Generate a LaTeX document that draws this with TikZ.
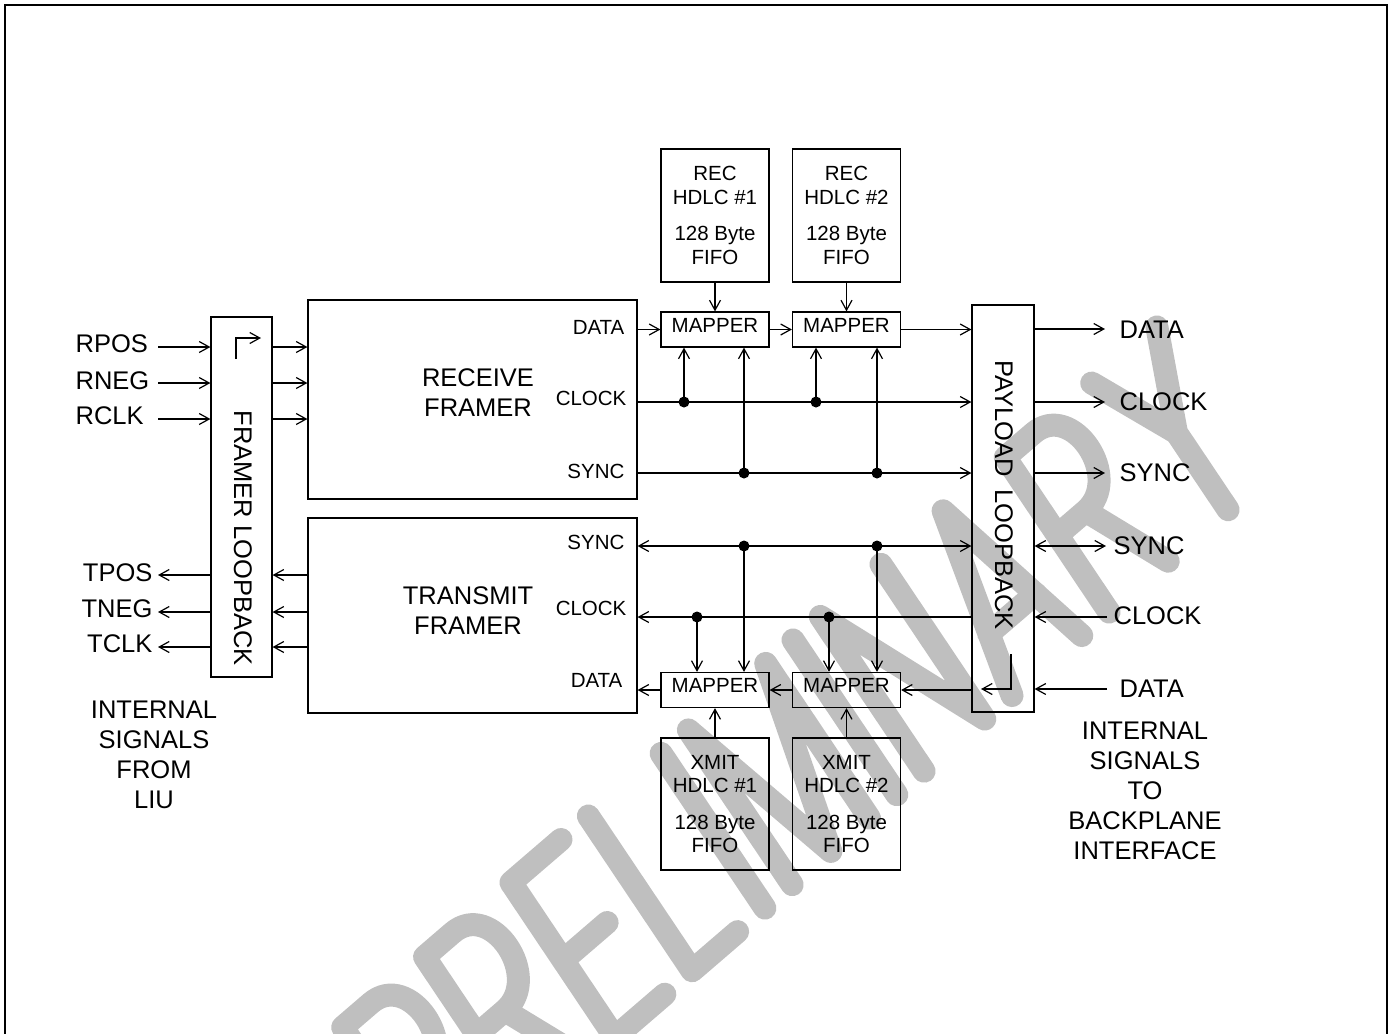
\documentclass[tikz,border=0pt]{standalone}
\usepackage{fontspec}
\setmainfont{Liberation Sans}
\usetikzlibrary{arrows.meta}
\begin{document}
\begin{tikzpicture}[x=1pt,y=-1pt,line width=1.2pt,
  >={Straight Barb[length=10pt,width=11pt]},
  blk/.style={draw,line width=1.2pt,inner sep=0pt},
  bigf/.style={font=\fontsize{25.5}{30}\selectfont},
  smallf/.style={font=\fontsize{20.5}{23.5}\selectfont},
  mapper/.style={blk,smallf,minimum width=108pt,minimum height=35pt,text height=15pt,text depth=10pt},
  hdlc/.style={blk,smallf,align=center,minimum width=108pt,minimum height=133pt},
  dot/.style={circle,fill,inner sep=0pt,minimum size=11pt},
  vtext/.style={bigf,rotate=-90,inner sep=0pt},
  lbl/.style={inner sep=0pt},
  wmark/.style={draw=black!25,line width=23pt,line cap=round,line join=round}]
\useasboundingbox (0,0) rectangle (1393,1034);

% watermark PRELIMINARY (stroke letters)
\begin{scope}[shift={(446.5,1182)},rotate=40.7,xslant=0.12,x=1pt,y=1pt,wmark]
  \draw (0,0) -- (0,185) -- (37,185) .. controls (88,185) and (88,92) .. (37,92) -- (0,92);
  \draw[xshift=108pt] (0,0) -- (0,185) -- (37,185) .. controls (88,185) and (88,92) .. (37,92) -- (0,92) (37,92) -- (78,0);
  \draw[xshift=222pt] (66,185) -- (0,185) -- (0,0) -- (66,0) (0,92) -- (58,92);
  \draw[xshift=324pt] (0,185) -- (0,0) -- (60,0);
  \draw[xshift=420pt] (0,0) -- (0,185);
  \draw[xshift=456pt] (0,0) -- (0,185) -- (51,0) -- (102,185) -- (102,0);
  \draw[xshift=594pt] (0,0) -- (0,185);
  \draw[xshift=630pt] (0,0) -- (0,185) -- (80,0) -- (80,185);
  \draw[xshift=746pt] (0,0) -- (46,185) -- (92,0) (15,62) -- (77,62);
  \draw[xshift=874pt] (0,0) -- (0,185) -- (37,185) .. controls (88,185) and (88,92) .. (37,92) -- (0,92) (37,92) -- (78,0);
  \draw[xshift=988pt] (0,185) -- (43,92) -- (86,185) (43,92) -- (43,0);
\end{scope}

% frame
\draw[line width=2.5pt] (5,1034) -- (5,5) -- (1387,5) -- (1387,1034);

% main blocks
\node[blk,minimum width=61pt,minimum height=360pt] (flb) at (241.5,497) {};
\node[vtext] (flbt) at (243,538) {FRAMER LOOPBACK};
\node[blk,minimum width=329pt,minimum height=199pt] (rf) at (472.5,399.5) {};
\node[blk,minimum width=329pt,minimum height=195pt] (tf) at (472.5,615.5) {};
\node[bigf,align=center,lbl] (rft) at (478,393) {RECEIVE\\FRAMER};
\node[bigf,align=center,lbl] (tft) at (468,610.5) {TRANSMIT\\FRAMER};
\node[blk,minimum width=62pt,minimum height=407pt] (plb) at (1003,508.5) {};
\node[vtext] (plbt) at (1004,495) {PAYLOAD\hspace{12pt}LOOPBACK};

% port labels
\node[smallf,lbl,anchor=east] (rfd) at (625,327) {DATA};
\node[smallf,lbl,anchor=east] (rfc) at (627,398) {CLOCK};
\node[smallf,lbl,anchor=east] (rfs) at (625,471) {SYNC};
\node[smallf,lbl,anchor=east] (tfs) at (625,542) {SYNC};
\node[smallf,lbl,anchor=east] (tfc) at (627,608) {CLOCK};
\node[smallf,lbl,anchor=east] (tfd) at (623,680) {DATA};

% HDLC and mappers
\node[hdlc] (rh1) at (715,215.5) {REC\\HDLC \#1\\[13pt]128 Byte\\FIFO};
\node[hdlc] (rh2) at (846.5,215.5) {REC\\HDLC \#2\\[13pt]128 Byte\\FIFO};
\node[mapper] (rm1) at (715,329.5) {MAPPER};
\node[mapper] (rm2) at (846.5,329.5) {MAPPER};
\node[mapper] (tm1) at (715,690) {MAPPER};
\node[mapper] (tm2) at (846.5,690) {MAPPER};
\node[hdlc,minimum height=132pt] (th1) at (715,804) {XMIT\\HDLC \#1\\[13pt]128 Byte\\FIFO};
\node[hdlc,minimum height=132pt] (th2) at (846.5,804) {XMIT\\HDLC \#2\\[13pt]128 Byte\\FIFO};

% left labels
\node[bigf,lbl,anchor=west] (rpos) at (75,344) {RPOS};
\node[bigf,lbl,anchor=west] (rneg) at (75,381) {RNEG};
\node[bigf,lbl,anchor=west] (rclk) at (75,416) {RCLK};
\node[bigf,lbl,anchor=east] (tpos) at (153,572.5) {TPOS};
\node[bigf,lbl,anchor=east] (tneg) at (153,608.5) {TNEG};
\node[bigf,lbl,anchor=east] (tclk) at (153,644) {TCLK};
\node[bigf,lbl,align=center] (liu) at (154,755) {INTERNAL\\SIGNALS\\FROM\\LIU};

% right labels
\node[bigf,lbl,anchor=west] (odata) at (1119,329.5) {DATA};
\node[bigf,lbl,anchor=west] (oclk) at (1119,402) {CLOCK};
\node[bigf,lbl,anchor=west] (osync) at (1119,472.5) {SYNC};
\node[bigf,lbl,anchor=west] (isync) at (1113,546) {SYNC};
\node[bigf,lbl,anchor=west] (iclk) at (1113,616) {CLOCK};
\node[bigf,lbl,anchor=west] (idata) at (1119,689) {DATA};
\node[bigf,lbl,align=center] (bpi) at (1145,791) {INTERNAL\\SIGNALS\\TO\\BACKPLANE\\INTERFACE};

% left connectors
\coordinate (a1) at (158,347); \coordinate (a2) at (158,383); \coordinate (a3) at (158,419);
\coordinate (b1) at (158,575); \coordinate (b2) at (158,612); \coordinate (b3) at (158,647);
\foreach \c in {a1,a2,a3}{
  \draw[->] (\c) -- (\c -| flb.west);
  \draw[->] (\c -| flb.east) -- (\c -| rf.west);
}
\foreach \c in {b1,b2,b3}{
  \draw[->] (\c -| flb.west) -- (\c);
  \draw[->] (\c -| tf.west) -- (\c -| flb.east);
}
\coordinate (fl1) at (236,359); \coordinate (fl2) at (261,338);
\draw[->] (fl1) |- (fl2);

% receive side
\coordinate (rcY) at (0,402); \coordinate (rsY) at (0,473);
\draw[->] (rf.east |- rm1) -- (rm1.west);
\draw[->] (rm1.east) -- (rm2.west);
\draw[->] (rm2.east) -- (rm2.east -| plb.west);
\draw[->] (rcY -| rf.east) -- (rcY -| plb.west);
\draw[->] (rsY -| rf.east) -- (rsY -| plb.west);
\draw[->] (rh1.south) -- (rm1.north);
\draw[->] (rh2.south) -- (rm2.north);
\node[dot] (rc1) at (684,402) {};
\node[dot] (rc2) at (816,402) {};
\node[dot] (rs1) at (744,473) {};
\node[dot] (rs2) at (877,473) {};
\draw[->] (rc1.center) -- (rc1 |- rm1.south);
\draw[->] (rc2.center) -- (rc2 |- rm2.south);
\draw[->] (rs1.center) -- (rs1 |- rm1.south);
\draw[->] (rs2.center) -- (rs2 |- rm2.south);

% transmit side
\coordinate (tsY) at (0,546); \coordinate (tcY) at (0,617);
\draw[<->] (tsY -| tf.east) -- (tsY -| plb.west);
\draw[->] (tcY -| plb.west) -- (tcY -| tf.east);
\draw[->] (plb.west |- tm2) -- (tm2.east);
\draw[->] (tm2.west) -- (tm1.east);
\draw[->] (tm1.west) -- (tm1.west -| tf.east);
\draw[->] (th1.north) -- (tm1.south);
\draw[->] (th2.north) -- (tm2.south);
\node[dot] (ts1) at (744,546) {};
\node[dot] (ts2) at (877,546) {};
\node[dot] (tc1) at (697,617) {};
\node[dot] (tc2) at (829,617) {};
\draw[->] (ts1.center) -- (ts1 |- tm1.north);
\draw[->] (ts2.center) -- (ts2 |- tm2.north);
\draw[->] (tc1.center) -- (tc1 |- tm1.north);
\draw[->] (tc2.center) -- (tc2 |- tm2.north);

% payload loopback internal arrow
\coordinate (pl1) at (1011,654); \coordinate (pl2) at (981,689);
\draw[->] (pl1) |- (pl2);

% right connectors
\coordinate (c1) at (1105,329); \coordinate (c2) at (1105,402); \coordinate (c3) at (1105,473);
\coordinate (c4) at (1106,546); \coordinate (c5) at (1107,617); \coordinate (c6) at (1107,689);
\foreach \c in {c1,c2,c3}{ \draw[->] (\c -| plb.east) -- (\c); }
\draw[<->] (c4 -| plb.east) -- (c4);
\draw[->] (c5) -- (c5 -| plb.east);
\draw[->] (c6) -- (c6 -| plb.east);
\end{tikzpicture}
\end{document}
